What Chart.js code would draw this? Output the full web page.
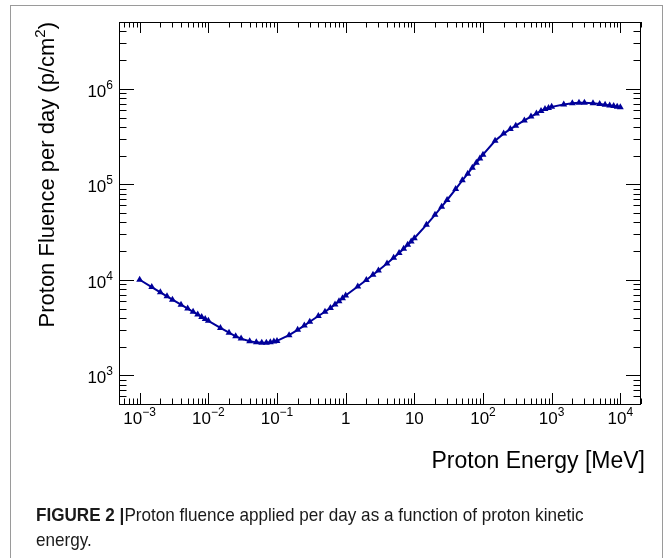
<!DOCTYPE html>
<html lang="en">
<head>
<meta charset="UTF-8">
<title>Proton fluence per day</title>
<script src="https://cdn.jsdelivr.net/npm/chart.js"></script>
<style>
  body { margin: 0; background: #fff; }
  #wrap { position: relative; width: 664px; height: 558px; overflow: hidden; }
  #frame { position: absolute; left: 10px; top: 5px; width: 651px; height: 600px; border: 1px solid #9a9a9a; }
  canvas { position: absolute; left: 0; top: 0; }
  .cap { position: absolute; left: 36px; font-family: "Liberation Sans", Arial, sans-serif; font-size: 19px; color: #1a1a1a;
         white-space: nowrap; transform: scaleX(0.9); transform-origin: 0 0; }
</style>
</head>
<body>
<div id="wrap">
  <div id="frame"></div>
  <canvas id="fluenceChart" width="664" height="558"></canvas>
  <div class="cap" style="top:504px"><b>FIGURE 2 |</b>Proton fluence applied per day as a function of proton kinetic</div>
  <div class="cap" style="top:529px">energy.</div>
</div>

<script>
// proton energy grid (MeV)
const energies = [
  0.001, 0.0015, 0.002, 0.0025, 0.003, 0.004, 0.005, 0.006, 0.007, 0.008, 0.009,
  0.01, 0.015, 0.02, 0.025, 0.03, 0.04, 0.05, 0.06, 0.07, 0.08, 0.09,
  0.1, 0.15, 0.2, 0.25, 0.3, 0.4, 0.5, 0.6, 0.7, 0.8, 0.9,
  1, 1.5, 2, 2.5, 3, 4, 5, 6, 7, 8, 9,
  10, 15, 20, 25, 30, 40, 50, 60, 70, 80, 90,
  100, 150, 200, 250, 300, 400, 500, 600, 700, 800, 900,
  1000, 1500, 2000, 2500, 3000, 4000, 5000, 6000, 7000, 8000, 9000,
  10000
];
// fluence per day (p/cm2)
const fluence = [
  10000, 8380, 7380, 6700, 6190, 5480, 4990, 4610, 4330, 4080, 3890,
  3720, 3130, 2790, 2560, 2420, 2270, 2210, 2190, 2190, 2210, 2250,
  2290, 2630, 2990, 3310, 3630, 4170, 4620, 5070, 5500, 5960, 6400,
  6840, 8510, 9950, 11300, 12500, 14800, 17000, 19100, 21100, 23200, 25100,
  27200, 37600, 47900, 58200, 68400, 89100, 110000, 129000, 149000, 168000, 186000,
  204000, 285000, 339000, 378000, 411000, 466000, 511000, 550000, 585000, 613000, 630000,
  646000, 684000, 705000, 713000, 713000, 705000, 692000, 679000, 668000, 658000, 649000,
  640000
];

const xTickValues = [0.001, 0.01, 0.1, 1, 10, 100, 1000, 10000];
const xTickLabels = [["10", "−3"], ["10", "−2"], ["10", "−1"], ["1", ""], ["10", ""], ["10", "2"], ["10", "3"], ["10", "4"]];
const yTickValues = [1e3, 1e4, 1e5, 1e6];
const yTickLabels = [["10", "3"], ["10", "4"], ["10", "5"], ["10", "6"]];

const xTitle = "Proton Energy [MeV]";
const yTitle = ["Proton Fluence per day (p/cm", "2", ")"];

const FONT = '"Liberation Sans", Arial, Helvetica, sans-serif';
const LINE_COLOR = "#00009a";

// ROOT style frame: ticks pointing inward on all four sides, labels with exponents
const rootFrame = {
  id: "rootFrame",
  afterDraw(chart) {
    const ctx = chart.ctx;
    const a = chart.chartArea;
    const xs = chart.scales.x, ys = chart.scales.y;
    ctx.save();
    ctx.strokeStyle = "#000";
    ctx.lineWidth = 1;
    ctx.strokeRect(a.left + 0.5, a.top + 0.5, a.right - a.left - 1, a.bottom - a.top);

    ctx.beginPath();
    for (let d = -4; d <= 4; d++) {
      for (let m = 1; m <= 9; m++) {
        const v = m * Math.pow(10, d);
        if (v < xs.min || v > xs.max) continue;
        const px = Math.round(xs.getPixelForValue(v)) + 0.5;
        const len = m === 1 ? 11 : 5.5;
        ctx.moveTo(px, a.bottom); ctx.lineTo(px, a.bottom - len);
        ctx.moveTo(px, a.top); ctx.lineTo(px, a.top + len);
      }
    }
    for (let d = 2; d <= 6; d++) {
      for (let m = 1; m <= 9; m++) {
        const v = m * Math.pow(10, d);
        if (v < ys.min || v > ys.max) continue;
        const py = Math.round(ys.getPixelForValue(v)) + 0.5;
        const len = m === 1 ? 15 : 7.5;
        ctx.moveTo(a.left, py); ctx.lineTo(a.left + len, py);
        ctx.moveTo(a.right, py); ctx.lineTo(a.right - len, py);
      }
    }
    ctx.stroke();

    ctx.fillStyle = "#000";
    ctx.textBaseline = "alphabetic";
    ctx.textAlign = "left";
    const big = "17px " + FONT, small = "12px " + FONT;

    xTickValues.forEach((v, i) => {
      const [b, e] = xTickLabels[i];
      ctx.font = big; const wb = ctx.measureText(b).width;
      ctx.font = small; const we = e ? ctx.measureText(e).width : 0;
      const px = xs.getPixelForValue(v);
      const x0 = px - (wb + we) / 2;
      ctx.font = big; ctx.fillText(b, x0, a.bottom + 20);
      if (e) { ctx.font = small; ctx.fillText(e, x0 + wb, a.bottom + 12); }
    });

    yTickValues.forEach((v, i) => {
      const [b, e] = yTickLabels[i];
      ctx.font = big; const wb = ctx.measureText(b).width;
      ctx.font = small; const we = ctx.measureText(e).width;
      const py = ys.getPixelForValue(v);
      const x0 = a.left - 6 - wb - we;
      ctx.font = big; ctx.fillText(b, x0, py + 8);
      ctx.font = small; ctx.fillText(e, x0 + wb, py);
    });

    // axis titles, right/top aligned like ROOT
    ctx.font = "23px " + FONT;
    ctx.textAlign = "right";
    ctx.fillText(xTitle, a.right + 4, a.bottom + 64);

    ctx.translate(54, a.top);
    ctx.rotate(-Math.PI / 2);
    ctx.textAlign = "left";
    ctx.font = "22px " + FONT;
    const w1 = ctx.measureText(yTitle[0]).width;
    const w3 = ctx.measureText(yTitle[2]).width;
    ctx.font = "15px " + FONT;
    const w2 = ctx.measureText(yTitle[1]).width;
    const u0 = -(w1 + w2 + w3);
    ctx.font = "22px " + FONT;
    ctx.fillText(yTitle[0], u0, 0);
    ctx.font = "15px " + FONT;
    ctx.fillText(yTitle[1], u0 + w1, -9);
    ctx.font = "22px " + FONT;
    ctx.fillText(yTitle[2], u0 + w1 + w2, 0);
    ctx.restore();
  }
};

const points = energies.map((e, i) => ({ x: e, y: fluence[i] }));

new Chart(document.getElementById("fluenceChart"), {
  type: "line",
  data: {
    datasets: [{
      data: points,
      borderColor: LINE_COLOR,
      backgroundColor: LINE_COLOR,
      borderWidth: 2,
      pointStyle: "triangle",
      pointRadius: 4,
      pointBorderWidth: 0,
      pointBackgroundColor: LINE_COLOR,
      tension: 0,
      fill: false
    }]
  },
  options: {
    responsive: false,
    animation: false,
    layout: { padding: { left: 0, right: 23, top: 22, bottom: 0 } },
    plugins: { legend: { display: false }, tooltip: { enabled: false } },
    scales: {
      x: {
        type: "logarithmic",
        min: 5e-4,
        max: 2e4,
        grid: { display: false, drawTicks: false },
        border: { display: false },
        ticks: { display: false },
        afterFit: (s) => { s.height = 154; }
      },
      y: {
        type: "logarithmic",
        min: 500,
        max: 5e6,
        grid: { display: false, drawTicks: false },
        border: { display: false },
        ticks: { display: false },
        afterFit: (s) => { s.width = 119; }
      }
    }
  },
  plugins: [rootFrame]
});
</script>
</body>
</html>
